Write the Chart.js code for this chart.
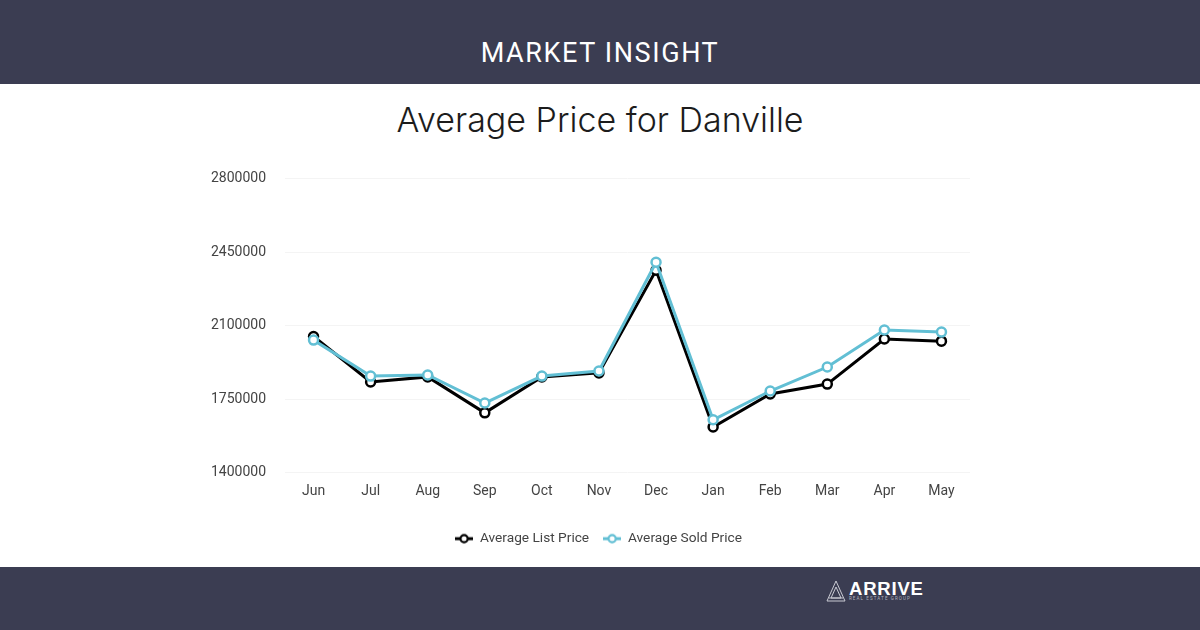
<!DOCTYPE html>
<html>
<head>
<meta charset="utf-8">
<script src="https://cdn.jsdelivr.net/npm/chart.js@4"></script>
<style>
  html, body { margin: 0; padding: 0; background: #fff; }
  body { width: 1200px; height: 630px; position: relative; overflow: hidden; }
  .band { position: absolute; left: 0; width: 1200px; background: #3b3d52; }
  #top { top: 0; height: 84px; }
  #bottom { top: 567px; height: 63px; }
  #head { position: absolute; top: 36px; left: 0; width: 1200px; text-align: center; color: #fff;
    font: 400 27px Roboto, sans-serif; letter-spacing: 1.6px; line-height: 34px; }
  #title { position: absolute; top: 99px; left: 0; width: 1200px; text-align: center; color: #1c1c1c;
    font: 300 34px Inter, sans-serif; line-height: 42px; }
  #chartBox { position: absolute; left: 200px; top: 150.5px; width: 800px; height: 404.5px; }
  #logo { position: absolute; left: 826px; top: 580px; width: 24px; height: 23px; }
  #logoName { position: absolute; left: 849px; top: 579px; color: #fff;
    font: 700 18.5px "Liberation Sans", sans-serif; letter-spacing: 0.8px; line-height: 20px; }
  #logoSub { position: absolute; left: 849px; top: 596px; color: #aeb0bc;
    font: 400 4.5px Roboto, sans-serif; letter-spacing: 1.1px; line-height: 6px; white-space: nowrap; }
</style>
</head>
<body>
<div class="band" id="top"></div>
<div class="band" id="bottom"></div>
<div id="head">MARKET INSIGHT</div>
<div id="title">Average Price for Danville</div>
<div id="chartBox"><canvas id="priceChart"></canvas></div>
<svg id="logo" viewBox="0 0 24 23" fill="none" stroke="#c9cad2" stroke-width="1">
  <path d="M10 1 L1 21 L19 21 Z"/>
  <path d="M10 7 L5 18 L15 18 Z"/>
  <path d="M3 18 L17 18"/>
</svg>
<div id="logoName">ARRIVE</div>
<div id="logoSub">REAL ESTATE GROUP</div>

<script>
const months = ['Jun', 'Jul', 'Aug', 'Sep', 'Oct', 'Nov', 'Dec', 'Jan', 'Feb', 'Mar', 'Apr', 'May'];
const listPrices = [2048000, 1832000, 1856000, 1685000, 1856000, 1875000, 2363000, 1618000, 1775000, 1822000, 2036000, 2026000];
const soldPrices = [2031000, 1860000, 1865000, 1732000, 1860000, 1884000, 2401000, 1652000, 1789000, 1903000, 2079000, 2069000];
const yTicks = [1400000, 1750000, 2100000, 2450000, 2800000];

const LIST_COLOR = '#000000';
const SOLD_COLOR = '#62bfd4';

// legend swatch: short line with an open circle on it
function legendSwatch(color) {
  const c = document.createElement('canvas');
  c.width = 18;
  c.height = 12;
  const ctx = c.getContext('2d');
  ctx.strokeStyle = color;
  ctx.lineWidth = 3;
  ctx.beginPath();
  ctx.moveTo(0, 6);
  ctx.lineTo(18, 6);
  ctx.stroke();
  ctx.fillStyle = '#fff';
  ctx.lineWidth = 2.2;
  ctx.beginPath();
  ctx.arc(9, 6, 3.6, 0, Math.PI * 2);
  ctx.fill();
  ctx.stroke();
  return c;
}

function lineSeries(label, data, color, order) {
  return {
    label: label,
    data: data,
    order: order,
    borderColor: color,
    backgroundColor: '#fff',
    borderWidth: 3,
    tension: 0,
    pointRadius: 4.5,
    pointBorderWidth: 2.5,
    pointBackgroundColor: '#fff',
    pointBorderColor: color,
    pointStyle: 'circle'
  };
}

// keep the legend centred on the page, not on the padded plot
const shiftLegend = {
  id: 'shiftLegend',
  afterLayout(chart) {
    chart.legend.left += 13.5;
    chart.legend.right += 13.5;
  }
};

new Chart(document.getElementById('priceChart'), {
  type: 'line',
  data: {
    labels: months,
    datasets: [
      lineSeries('Average List Price', listPrices, LIST_COLOR, 1),
      lineSeries('Average Sold Price', soldPrices, SOLD_COLOR, 0)
    ]
  },
  plugins: [shiftLegend],
  options: {
    responsive: true,
    maintainAspectRatio: false,
    animation: false,
    layout: { padding: { top: 0, right: 30 } },
    scales: {
      x: {
        offset: true,
        grid: { display: false },
        border: { display: false },
        ticks: { color: '#444', font: { family: 'Roboto', size: 14 }, padding: 2, maxRotation: 0 },
        afterFit(scale) { scale.height = 45; }
      },
      y: {
        min: yTicks[0],
        max: yTicks[yTicks.length - 1],
        grid: { color: '#f4f4f4', drawTicks: false, lineWidth: 1 },
        border: { display: false },
        ticks: {
          stepSize: yTicks[1] - yTicks[0],
          color: '#444',
          font: { family: 'Roboto', size: 14 },
          padding: 19,
          callback: value => String(value)
        },
        afterFit(scale) { scale.width = 85; }
      }
    },
    plugins: {
      legend: {
        position: 'bottom',
        labels: {
          color: '#444',
          font: { family: 'Roboto', size: 13.7 },
          usePointStyle: true,
          pointStyleWidth: 18,
          padding: 14,
          generateLabels(chart) {
            return chart.data.datasets.map((ds, i) => ({
              text: ds.label,
              fontColor: '#444',
              pointStyle: legendSwatch(ds.borderColor),
              datasetIndex: i,
              lineWidth: 0
            }));
          }
        }
      },
      tooltip: { enabled: false }
    }
  }
});
</script>
</body>
</html>
